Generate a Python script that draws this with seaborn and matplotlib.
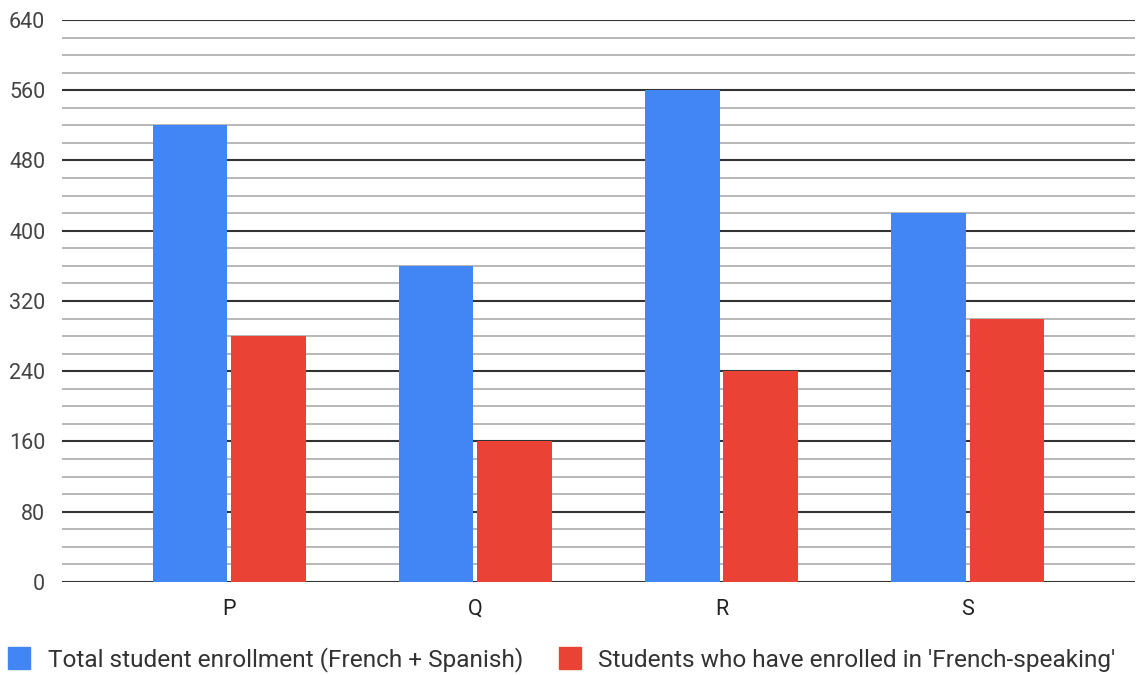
import pandas as pd
import seaborn as sns
import matplotlib.pyplot as plt
from matplotlib.lines import Line2D

# valeurs
categories = ["P", "Q", "R", "S"]
total_enrollment = [520, 360, 560, 420]
french_speaking = [280, 160, 240, 300]
series_names = ["Total student enrollment (French + Spanish)",
                "Students who have enrolled in 'French-speaking'"]
y_ticks = list(range(0, 641, 80))

colors = ["#4285F4", "#EA4335"]

df = pd.DataFrame({
    "category": categories * 2,
    "value": total_enrollment + french_speaking,
    "series": [series_names[0]] * 4 + [series_names[1]] * 4,
})

sns.set_theme(style="white")
plt.rcParams["font.family"] = ["Roboto", "DejaVu Sans"]

fig = plt.figure(figsize=(11.37, 6.75), dpi=100)
ax = fig.add_axes([0.0545, 0.1378, 0.9437, 0.8326])

sns.barplot(data=df, x="category", y="value", hue="series",
            palette=colors, width=0.64, gap=0.05, saturation=1,
            edgecolor="none", linewidth=0,
            legend=False, ax=ax, zorder=3)

ax.set_ylim(0, 640)
ax.set_xlim(-0.68, 3.68)
ax.set_yticks(y_ticks)
ax.set_yticks(range(0, 641, 20), minor=True)
ax.grid(axis="y", which="minor", color="#b8b8b8", linewidth=1.4, zorder=0)
ax.grid(axis="y", which="major", color="#333333", linewidth=1.5, zorder=1)
ax.set_axisbelow(True)
for s in ax.spines.values():
    s.set_visible(False)
ax.tick_params(axis="both", which="both", length=0)
ax.tick_params(axis="y", labelsize=15.5, labelcolor="#444444", pad=12)
ax.tick_params(axis="x", labelsize=15.5, labelcolor="#222222", pad=12)
ax.set_xlabel("")
ax.set_ylabel("")

handles = [Line2D([0], [0], marker="s", color="none", markerfacecolor=c,
                  markeredgecolor=c, markersize=15.5) for c in colors]
fig.legend(handles, series_names, loc="center left",
           bbox_to_anchor=(7 / 1137, 1 - 660 / 675),
           ncol=2, frameon=False, fontsize=17.6, handlelength=1.0,
           borderpad=0, borderaxespad=0,
           handletextpad=0.67, columnspacing=1.4, labelcolor="#333333")

fig.savefig("out.png", dpi=100)
